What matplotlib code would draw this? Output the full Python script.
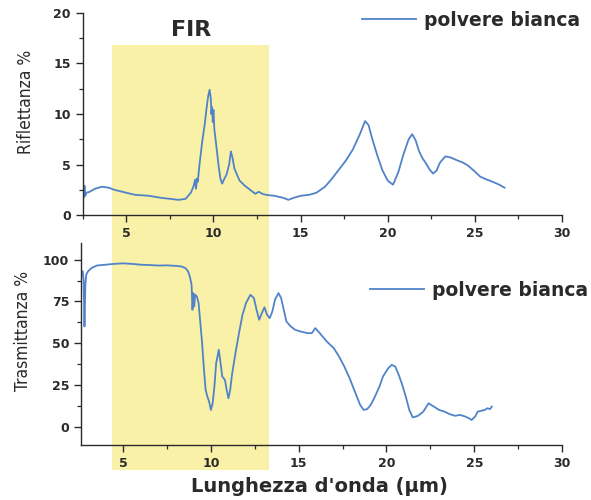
import matplotlib
matplotlib.use("Agg")
import matplotlib.pyplot as plt
from matplotlib.patches import Rectangle
from matplotlib.ticker import MultipleLocator
import matplotlib.transforms as mtransforms

plt.rcParams['font.family'] = ['DejaVu Sans']

# ---- data ----
refl_x = [2.5, 2.55, 2.6, 2.65, 2.7, 2.9, 3.2, 3.6, 4.0, 4.3, 5.0, 5.5, 6.3, 7.0, 8.0,
          8.4, 8.7, 8.85, 8.95, 9.0, 9.05, 9.1, 9.2, 9.35, 9.5, 9.6, 9.7, 9.78, 9.85, 9.88,
          9.92, 9.96, 10.0, 10.05, 10.1, 10.2, 10.3, 10.4, 10.5, 10.6, 10.75, 10.9, 11.0, 11.1, 11.2,
          11.35, 11.5, 11.8, 12.1, 12.4, 12.6, 12.8, 13.0, 13.5, 14.0, 14.3, 14.6, 15.0, 15.5, 15.9,
          16.4, 16.8, 17.2, 17.6, 18.0, 18.4, 18.7, 18.9, 19.1, 19.4, 19.7, 20.0, 20.3, 20.6, 20.9,
          21.2, 21.4, 21.6, 21.8, 22.0, 22.2, 22.4, 22.6, 22.8, 23.0, 23.3, 23.6, 24.0, 24.3, 24.6,
          25.0, 25.3, 25.7, 26.0, 26.4, 26.7]
refl_y = [2.2, 1.7, 2.9, 1.9, 2.2, 2.3, 2.6, 2.8, 2.7, 2.5, 2.2, 2.0, 1.9, 1.7, 1.5,
          1.6, 2.2, 2.8, 3.5, 2.6, 3.6, 3.3, 5.0, 7.2, 9.0, 10.5, 11.8, 12.4, 11.5, 10.0,
          10.7, 9.2, 10.4, 8.5, 7.8, 6.3, 4.8, 3.6, 3.1, 3.5, 4.0, 5.0, 6.3, 5.6, 4.6,
          4.0, 3.4, 2.9, 2.5, 2.1, 2.3, 2.1, 2.0, 1.9, 1.7, 1.5, 1.7, 1.9, 2.0, 2.2,
          2.8, 3.6, 4.5, 5.4, 6.5, 8.0, 9.3, 8.9, 7.6, 5.9, 4.4, 3.4, 3.0, 4.2, 6.0,
          7.5, 8.0, 7.4, 6.3, 5.6, 5.1, 4.5, 4.1, 4.4, 5.2, 5.8, 5.7, 5.4, 5.2, 4.9,
          4.3, 3.8, 3.5, 3.3, 3.0, 2.7]

trans_x = [2.7, 2.75, 2.8, 2.85, 2.9, 3.0, 3.2, 3.5, 4.0, 4.5, 5.0, 5.5, 6.0, 6.5, 7.0,
           7.5, 8.0, 8.3, 8.55, 8.7, 8.8, 8.9, 8.95, 9.0, 9.05, 9.1, 9.2, 9.3, 9.4, 9.5,
           9.6, 9.7, 9.8, 9.9, 10.0, 10.1, 10.2, 10.3, 10.45, 10.55, 10.65, 10.8, 10.9, 11.0, 11.1,
           11.2, 11.4, 11.6, 11.8, 12.0, 12.25, 12.45, 12.6, 12.75, 12.9, 13.05, 13.2, 13.35, 13.5, 13.65,
           13.85, 14.0, 14.15, 14.3, 14.55, 14.8, 15.1, 15.5, 15.75, 15.95, 16.2, 16.6, 17.0, 17.3, 17.6,
           17.9, 18.2, 18.5, 18.7, 18.9, 19.1, 19.3, 19.6, 19.8, 20.1, 20.3, 20.5, 20.7, 20.9, 21.1,
           21.3, 21.5, 21.8, 22.1, 22.4, 22.7, 23.0, 23.3, 23.6, 23.9, 24.2, 24.5, 24.7, 24.85, 25.05,
           25.2, 25.4, 25.6, 25.75, 25.9, 26.0]
trans_y = [93, 88, 60, 85, 91, 93, 95, 96.5, 97, 97.5, 97.8, 97.5, 97, 96.8, 96.5,
           96.6, 96.3, 96, 95, 93, 90, 85, 70, 80, 72, 79, 78, 74, 62, 50,
           35, 22, 18, 15, 10, 14, 24, 38, 46, 38, 30, 28, 22, 17, 22,
           31, 44, 56, 67, 74, 79, 77, 70, 64, 68, 71.5, 67, 65, 69, 76,
           80, 77, 70, 63, 60, 58, 57, 56, 56, 59, 56, 51, 47, 42, 36,
           29, 21, 13, 10, 10.5, 13, 17, 24, 30, 35, 37, 36, 31, 25, 18,
           10, 5.5, 6.5, 9, 14, 12, 10, 9, 7.5, 6.5, 7, 6, 5, 4, 6,
           9, 9.5, 10, 11, 10.5, 12]

series_label = "polvere bianca"
fir_label = "FIR"
fir_start, fir_end = 4.2, 13.2
x_ticks = [5, 10, 15, 20, 25, 30]
refl_ticks = [0, 5, 10, 15, 20]
trans_ticks = [0, 25, 50, 75, 100]

LINE = '#5083c9'
YELLOW = '#f9f1a8'
TXT = '#2a2a2a'
YLAB_FONT = dict(family=['DejaVu Sans'], stretch='condensed', fontsize=12.5, color=TXT)

fig = plt.figure(figsize=(5.91, 5.0), dpi=100)
fig.patch.set_facecolor('white')

ax1 = fig.add_axes([0.140, 0.570, 0.811, 0.404])
ax2 = fig.add_axes([0.137, 0.110, 0.814, 0.404])

for ax in (ax1, ax2):
    ax.set_facecolor('none')
    for s in ('top', 'right'):
        ax.spines[s].set_visible(False)
    for s in ('left', 'bottom'):
        ax.spines[s].set_color(TXT)
        ax.spines[s].set_linewidth(1.0)
    ax.tick_params(which='major', direction='out', length=5, width=1.0, colors=TXT,
                   labelsize=9, labelcolor=TXT)
    ax.tick_params(which='minor', direction='out', length=3, width=0.9, colors=TXT)
    ax.set_xticks(x_ticks)
    ax.xaxis.set_minor_locator(MultipleLocator(2.5))

ax1.plot(refl_x, refl_y, color=LINE, lw=1.3, label=series_label)
ax1.set_xlim(2.5, 30)
ax1.set_ylim(0, 20)
ax1.set_yticks(refl_ticks)
ax1.yaxis.set_minor_locator(MultipleLocator(2.5))
ax1.set_ylabel("Riflettanza %", **YLAB_FONT)
ax1.yaxis.set_label_coords(-0.100, 0.56)

ax2.plot(trans_x, trans_y, color=LINE, lw=1.3, label=series_label)
ax2.set_xlim(2.6, 30)
ax2.set_ylim(-11, 110)
ax2.set_yticks(trans_ticks)
ax2.yaxis.set_minor_locator(MultipleLocator(12.5))
ax2.set_ylabel("Trasmittanza %", **YLAB_FONT)
ax2.yaxis.set_label_coords(-0.102, 0.564)

for ax in (ax1, ax2):
    for lab in ax.get_xticklabels() + ax.get_yticklabels():
        lab.set_fontweight('bold')

fig.text(0.541, 0.026, "Lunghezza d'onda (µm)", ha='center', va='center',
         fontsize=14, fontweight='bold', color=TXT)

# FIR band spanning both panels
blend = mtransforms.blended_transform_factory(ax1.transData, fig.transFigure)
rect = Rectangle((fir_start, 1 - 470 / 500), fir_end - fir_start, 425 / 500,
                 transform=blend, facecolor=YELLOW, edgecolor='none', zorder=-5)
fig.patches.append(rect)
ax1.text((fir_start + fir_end) / 2, 18.3, fir_label, ha='center', va='center',
         fontsize=16, fontweight='bold', color=TXT)

leg_font = dict(size=13.5, weight='bold')
l1 = ax1.legend(loc='center left', bbox_to_anchor=(362 / 591, 1 - 20 / 500),
                bbox_transform=fig.transFigure, frameon=False, prop=leg_font,
                handlelength=2.9, handletextpad=0.43, borderpad=0, borderaxespad=0)
l2 = ax2.legend(loc='center left', bbox_to_anchor=(370 / 591, 1 - 290 / 500),
                bbox_transform=fig.transFigure, frameon=False, prop=leg_font,
                handlelength=2.9, handletextpad=0.43, borderpad=0, borderaxespad=0)
for lg in (l1, l2):
    for t in lg.get_texts():
        t.set_color(TXT)

fig.savefig('out.png', dpi=100)
